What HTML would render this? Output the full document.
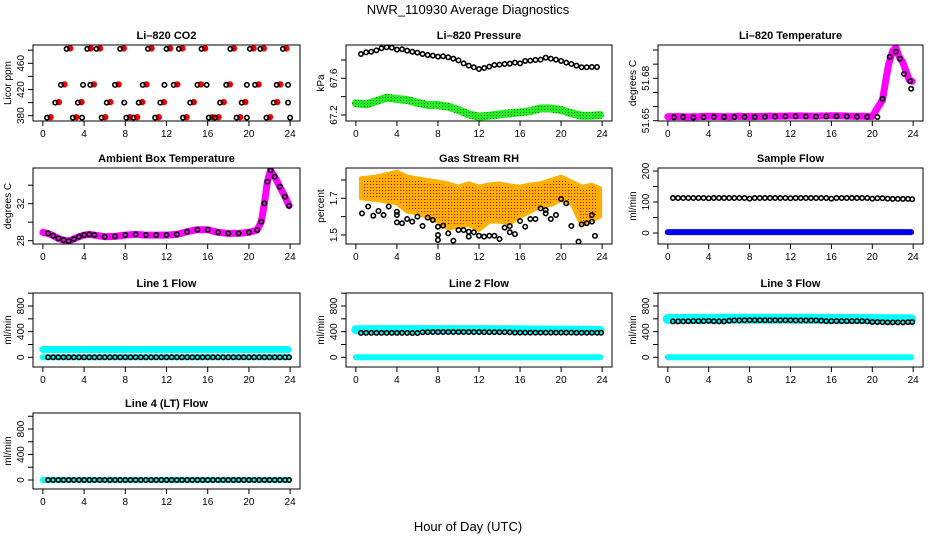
<!DOCTYPE html>
<html><head><meta charset="utf-8">
<style>
html,body{margin:0;padding:0;background:#fff;}
svg{display:block;font-family:"Liberation Sans",Arial,sans-serif;}
</style></head>
<body>
<svg id="chart" width="936" height="540" viewBox="0 0 936 540" xmlns="http://www.w3.org/2000/svg">
<defs>
<pattern id="rhdots" width="3" height="3" patternUnits="userSpaceOnUse">
<rect width="3" height="3" fill="#ffb000"/><rect x="1" y="1" width="1" height="1" fill="#e00000"/>
</pattern>
<pattern id="grdots" width="3" height="3" patternUnits="userSpaceOnUse">
<rect width="3" height="3" fill="#22ee22"/><rect x="1" y="1" width="1" height="1" fill="#006600"/>
</pattern>
</defs>
<text x="468" y="14" text-anchor="middle" font-size="13">NWR_110930  Average Diagnostics</text>
<text x="468" y="531" text-anchor="middle" font-size="13">Hour of Day (UTC)</text>
</svg>
<script>
// ---------- data ----------
const xTicks=[0,4,8,12,16,20,24];
// CO2
const co2Hours=[2.3,4.3,5.2,7.5,10.2,12.0,13.2,15.4,18.2,20.1,21.1,23.3, 1.75,3.9,4.6,7.0,9.7,11.8,12.7,15.0,15.9,17.8,19.8,20.6,22.7,23.8, 1.2,3.4,6.2,7.9,9.3,11.4,14.3,17.2,19.3,22.4,23.8, 0.4,2.9,3.8,5.7,8.1,8.8,10.9,13.6,16.1,16.7,18.8,19.8,21.7,24];
const co2Values=[482,482,482,482,482,482,482,482,482,482,482,482, 427,427,427,427,427,427,427,427,427,427,427,427,427,427, 400,400,400,400,400,400,400,400,400,400,400, 377,377,377,377,377,377,377,377,377,377,377,377,377,377];
const co2Red=[1,1,1,1,1,1,1,1,1,1,1,1, 1,0,1,1,1,0,1,1,0,1,0,1,1,0, 1,1,1,0,1,1,1,1,1,1,0, 1,1,0,1,1,1,1,1,1,1,1,0,1,0];
// Pressure
const presHours=[0.5,1,1.5,2,2.5,3,3.5,4,4.5,5,5.5,6,6.5,7,7.5,8,8.5,9,9.5,10,10.5,11,11.5,12,12.5,13,13.5,14,14.5,15,15.5,16,16.5,17,17.5,18,18.5,19,19.5,20,20.5,21,21.5,22,22.5,23,23.5];
const presValues=[67.865,67.883,67.890,67.905,67.927,67.938,67.934,67.912,67.916,67.901,67.890,67.880,67.865,67.854,67.847,67.836,67.840,67.829,67.814,67.796,67.763,67.738,67.720,67.701,67.712,67.727,67.745,67.749,67.756,67.760,67.771,67.763,67.789,67.792,67.800,67.803,67.825,67.814,67.803,67.789,67.771,67.756,67.738,67.720,67.720,67.723,67.723];
const presGreenHours=[0,1,2,3,4,5,6,7,8,9,10,11,12,13,14,15,16,17,18,19,20,21,22,23,23.8];
const presGreenValues=[67.327,67.316,67.352,67.389,67.374,67.363,67.334,67.309,67.309,67.290,67.254,67.207,67.181,67.192,67.207,67.218,67.229,67.243,67.272,67.272,67.254,67.218,67.192,67.192,67.200];
// Li-820 temperature
const tempHours=[0,1,2,3,4,5,6,7,8,9,10,11,12,13,14,15,16,17,18,19,20,21,21.3,21.6,22,22.3,22.6,23,23.3,23.6,23.9];
const tempValues=[51.6528,51.6530,51.6527,51.6529,51.6531,51.6530,51.6528,51.6531,51.6529,51.6530,51.6532,51.6531,51.6533,51.6534,51.6532,51.6533,51.6535,51.6534,51.6532,51.6531,51.6530,51.6648,51.6779,51.6898,51.6993,51.7017,51.6957,51.6910,51.6850,51.6790,51.6779];
const tempBlackHours=[0.6,1.5,2.5,3.5,4.5,5.5,6.5,7.5,8.5,9.5,10.5,11.5,12.5,13.5,14.5,15.5,16.5,17.5,18.5,19.5,20.5,21.0,21.7,22.3,22.7,23.1,23.7,23.8];
const tempBlackValues=[51.6524,51.6526,51.6523,51.6525,51.6527,51.6526,51.6525,51.6527,51.6526,51.6528,51.6529,51.6530,51.6531,51.6530,51.6529,51.6530,51.6531,51.6530,51.6528,51.6527,51.6526,51.6655,51.6952,51.6988,51.6938,51.6831,51.6779,51.6726];
// Ambient box temperature
const ambHours=[0,0.5,1,1.5,2,2.5,3,3.5,4,4.5,5,6,7,8,9,10,11,12,13,14,15,16,17,18,19,20,20.8,21.2,21.5,21.8,22.1,22.5,23,23.5,23.9];
const ambValues=[28.90,28.79,28.54,28.25,28.07,27.96,28.18,28.43,28.61,28.68,28.61,28.43,28.47,28.61,28.68,28.61,28.61,28.61,28.68,28.97,29.19,29.19,28.90,28.79,28.79,28.90,29.15,30.05,32.04,34.38,35.60,34.92,33.84,32.76,31.78];
// Gas stream RH
const rhBandHours=[0.5,2,4,5,6,8,9,10,11,12,13,14,15,16,17,18,19,20,21,22,23,23.8];
const rhBandUpper=[1.809,1.818,1.845,1.818,1.809,1.791,1.78,1.764,1.782,1.764,1.775,1.782,1.77,1.764,1.775,1.782,1.8,1.818,1.791,1.764,1.773,1.755];
const rhBandLower=[1.7,1.691,1.673,1.627,1.618,1.573,1.536,1.545,1.555,1.527,1.573,1.573,1.564,1.6,1.627,1.655,1.664,1.691,1.673,1.555,1.582,1.6];
const rhHours=[0.6,1.2,1.7,2.2,2.7,3.2,4,4,4,4.5,5,5.5,6,6.5,7,7.5,8,8,8,8.5,9,9.5,10,10.5,11,11,11.5,12,12.5,13,13.5,14,14.5,15,15,15.5,16,16.5,17,17.5,18,18.5,18.5,19,19.5,20,20.5,21,21.7,22,22.5,23,23,23.3];
const rhValues=[1.618,1.655,1.605,1.631,1.609,1.655,1.627,1.609,1.569,1.564,1.587,1.573,1.6,1.549,1.595,1.582,1.545,1.5,1.473,1.551,1.509,1.469,1.527,1.527,1.518,1.491,1.515,1.496,1.491,1.496,1.496,1.478,1.54,1.549,1.515,1.505,1.576,1.545,1.587,1.587,1.645,1.636,1.618,1.587,1.609,1.696,1.673,1.549,1.464,1.558,1.564,1.573,1.609,1.495];
// Flows (half-hour means)
const flowHours=[0.5,1,1.5,2,2.5,3,3.5,4,4.5,5,5.5,6,6.5,7,7.5,8,8.5,9,9.5,10,10.5,11,11.5,12,12.5,13,13.5,14,14.5,15,15.5,16,16.5,17,17.5,18,18.5,19,19.5,20,20.5,21,21.5,22,22.5,23,23.5,23.9];
const sampleValues=[113,113,113,113,113,113,113,112,113,113,113,113,113,113,113,111,113,113,113,113,113,113,113,112,113,113,113,113,113,113,113,111,113,113,113,113,113,113,113,111,112,112,111,110,110,110,110,109];
const line2Values=[380,380,380,380,380,380,380,380,380,380,378,378,390,392,395,395,395,395,395,395,395,395,395,395,392,392,392,392,392,390,385,385,385,385,385,385,385,385,385,385,385,385,382,382,382,382,382,383];
const line3Values=[560,560,560,562,565,565,565,568,562,560,560,570,575,575,578,580,578,578,578,578,578,578,578,578,575,575,575,575,575,572,565,565,565,565,565,565,565,565,560,550,550,548,545,545,545,545,548,550];
const zeroValues=[0,0,0,0,0,0,0,0,0,0,0,0,0,0,0,0,0,0,0,0,0,0,0,0,0,0,0,0,0,0,0,0,0,0,0,0,0,0,0,0,0,0,0,0,0,0,0,0];
const bandHours=[0,6,12,18,23.8];
const sampleBlue=[3,3,3,3,3];
const line1Cyan=[122,122,122,122,122];
const line2Cyan=[430,432,432,425,420];
const line3Cyan=[598,602,602,598,592];
const cyanZero=[0,0,0,0,0];

// ---------- drawing ----------
const svg=document.getElementById('chart');
const NS='http://www.w3.org/2000/svg';
function mk(tag,attrs,parent){const e=document.createElementNS(NS,tag);for(const k in attrs)e.setAttribute(k,attrs[k]);(parent||svg).appendChild(e);return e;}
const cols=[[33,300],[346,612],[658,923]];

function panel(name,title,col,y0,y1,va,pa,vb,pb,yt,yl,ytitle){
  const g=mk('g',{});
  
  
  const x0=cols[col][0],x1=cols[col][1];
  const sx=h=>x0+(h+0.96)/25.92*(x1-x0);
  const sy=v=>pa+(v-va)*(pb-pa)/(vb-va);
  const clip=mk('clipPath',{id:'clip-'+name},g);
  mk('rect',{x:x0,y:y0,width:x1-x0,height:y1-y0},clip);
  const plot=mk('g',{'clip-path':'url(#clip-'+name+')'},g);
  
  
  const t=mk('text',{x:(x0+x1)/2,y:y0-6,'text-anchor':'middle','font-size':'11','font-weight':'bold'},g);
  t.textContent=title;
  
  
  const box=mk('rect',{x:x0,y:y0,width:x1-x0,height:y1-y0,fill:'none',stroke:'#000','stroke-width':1},g);
  
  
  xTicks.forEach(h=>{
    const tk=mk('line',{x1:sx(h),x2:sx(h),y1:y1,y2:y1+5,stroke:'#000'},g);
    
    
    const lb=mk('text',{x:sx(h),y:y1+16,'text-anchor':'middle','font-size':'10'},g);
    lb.textContent=h;
    
    
  });
  yt.forEach(v=>{
    const tk=mk('line',{x1:x0-5,x2:x0,y1:sy(v),y2:sy(v),stroke:'#000'},g);
    
    
  });
  yl.forEach(v=>{
    const yy=sy(v);
    const lb=mk('text',{x:x0-9,y:yy,'text-anchor':'middle','font-size':'10',transform:'rotate(-90 '+(x0-9)+' '+yy+')'},g);
    lb.textContent=String(v);
    
    
  });
  const yc=(y0+y1)/2;
  const at=mk('text',{x:x0-22,y:yc,'text-anchor':'middle','font-size':'10',transform:'rotate(-90 '+(x0-22)+' '+yc+')'},g);
  at.textContent=ytitle;
  
  
  return {g:plot,sx,sy};
}
function pts(p,hs,vs){return hs.map((h,i)=>p.sx(h).toFixed(1)+','+p.sy(vs[i]).toFixed(1)).join(' ');}
function band(p,name,hs,vs,color,w){
  const l=mk('polyline',{points:pts(p,hs,vs),fill:'none',stroke:color,'stroke-width':w,'stroke-linejoin':'round','stroke-linecap':'round'},p.g);
  
  
}
function circles(p,name,hs,vs,r){
  const gg=mk('g',{},p.g);
  
  
  hs.forEach((h,i)=>{
    const c=mk('circle',{cx:p.sx(h),cy:p.sy(vs[i]),r:r||2.2,fill:'none',stroke:'#000','stroke-width':1.6},gg);
    
    
  });
}

// CO2
const p1=panel('co2-panel','Li\u2013820 CO2',0,45,121,380,115.7,460,63.3,[380,400,420,440,460,480],[380,420,460],'Licor ppm');
co2Hours.forEach((h,i)=>{
  if(co2Red[i]){
    const r=mk('circle',{cx:p1.sx(h+0.35),cy:p1.sy(co2Values[i]+0.8),r:3.2,fill:'#ee0000'},p1.g);
    
    
  }
});
circles(p1,'co2-black-points',co2Hours,co2Values,2.2);

// Pressure
const p2=panel('pressure-panel','Li\u2013820 Pressure',1,45,121,67.2,115,67.6,78.3,[67.2,67.4,67.6,67.8],[67.2,67.6],'kPa');
band(p2,'pressure-green-series',presGreenHours,presGreenValues,'url(#grdots)',8);
circles(p2,'pressure-black-points',presHours,presValues,2.2);

// Temperature
const p3=panel('li820-temp-panel','Li\u2013820 Temperature',2,45,121,51.65,120.7,51.68,78.3,[51.65,51.66,51.67,51.68,51.69,51.70],[51.65,51.68],'degrees C');
band(p3,'temp-magenta-series',tempHours,tempValues,'#ff00ff',7);
circles(p3,'temp-black-points',tempBlackHours,tempBlackValues,2.2);

// Ambient
const p4=panel('ambient-temp-panel','Ambient Box Temperature',0,168,244,28,240.7,32,203.7,[28,30,32,34],[28,32],'degrees C');
band(p4,'ambient-magenta-series',ambHours,ambValues,'#ff00ff',7);
circles(p4,'ambient-black-points',ambHours.slice(1),ambValues.slice(1),2.2);

// RH
const p5=panel('rh-panel','Gas Stream RH',1,168,244,1.5,235,1.7,198.3,[1.5,1.6,1.7,1.8],[1.5,1.7],'percent');
const up=rhBandHours.map((h,i)=>p5.sx(h).toFixed(1)+','+p5.sy(rhBandUpper[i]).toFixed(1));
const lo=rhBandHours.map((h,i)=>p5.sx(h).toFixed(1)+','+p5.sy(rhBandLower[i]).toFixed(1)).reverse();
const rhb=mk('polygon',{points:up.concat(lo).join(' '),fill:'url(#rhdots)',stroke:'#ffb000','stroke-width':4,'stroke-linejoin':'round'},p5.g);


circles(p5,'rh-black-points',rhHours,rhValues,2.2);

// Sample flow
const p6=panel('sample-flow-panel','Sample Flow',2,168,244,0,233,100,202,[0,50,100,150,200],[0,100,200],'ml/min');
band(p6,'sample-blue-series',bandHours,sampleBlue,'#0000ee',6);
circles(p6,'sample-black-points',flowHours,sampleValues,2.2);

// Line flows
const lt=[0,200,400,600,800,1000],ll=[0,400,800];
const p7=panel('line1-flow-panel','Line 1 Flow',0,293,367,0,357.3,800,306,lt,ll,'ml/min');
band(p7,'line1-cyan-high',bandHours,line1Cyan,'#00ffff',7);
band(p7,'line1-cyan-zero',bandHours,cyanZero,'#00ffff',6);
circles(p7,'line1-black-points',flowHours,zeroValues,2.2);

const p8=panel('line2-flow-panel','Line 2 Flow',1,293,367,0,357.3,800,306,lt,ll,'ml/min');
band(p8,'line2-cyan-high',bandHours,line2Cyan,'#00ffff',9);
band(p8,'line2-cyan-zero',bandHours,cyanZero,'#00ffff',6);
circles(p8,'line2-black-points',flowHours,line2Values,2.2);

const p9=panel('line3-flow-panel','Line 3 Flow',2,293,367,0,357.3,800,306,lt,ll,'ml/min');
band(p9,'line3-cyan-high',bandHours,line3Cyan,'#00ffff',10);
band(p9,'line3-cyan-zero',bandHours,cyanZero,'#00ffff',6);
circles(p9,'line3-black-points',flowHours,line3Values,2.2);

const p10=panel('line4-flow-panel','Line 4 (LT) Flow',0,413,489,0,480,800,429,lt,ll,'ml/min');
band(p10,'line4-cyan-zero',bandHours,cyanZero,'#00ffff',6);
circles(p10,'line4-black-points',flowHours,zeroValues,2.2);
</script>
</body></html>
